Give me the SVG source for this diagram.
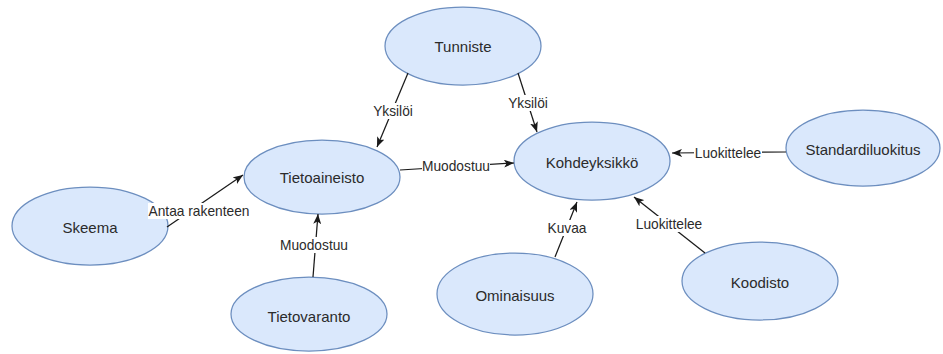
<svg xmlns="http://www.w3.org/2000/svg" width="943" height="354" viewBox="0 0 943 354">
<defs>
<style>
.node ellipse{fill:#dae8fc;stroke:#6c8ebf;stroke-width:1.25}
.node text{font-family:"Liberation Sans",Arial,sans-serif;font-size:15px;fill:#2b2b2b;text-anchor:middle;dominant-baseline:central}
.edge line{stroke:#1a1a1a;stroke-width:1.25;marker-end:url(#arr)}
.lbl rect{fill:#ffffff}
.lbl text{font-family:"Liberation Sans",Arial,sans-serif;font-size:13.75px;fill:#2b2b2b;text-anchor:middle;dominant-baseline:central}
</style>
<marker id="arr" viewBox="0 0 10 8" refX="10" refY="4" markerWidth="10" markerHeight="8" orient="auto" markerUnits="userSpaceOnUse">
<path d="M0,0 L10,4 L0,8 L2.5,4 z" fill="#1a1a1a"/>
</marker>
</defs>
<rect width="943" height="354" fill="#ffffff"/>
<g id="tunniste" class="node"><ellipse cx="463" cy="46" rx="78" ry="39"/><text x="463" y="46">Tunniste</text></g>
<g id="tietoaineisto" class="node"><ellipse cx="322" cy="177" rx="78" ry="37"/><text x="322" y="177">Tietoaineisto</text></g>
<g id="skeema" class="node"><ellipse cx="90" cy="226" rx="78" ry="39"/><text x="90" y="227">Skeema</text></g>
<g id="tietovaranto" class="node"><ellipse cx="309" cy="314" rx="78" ry="37"/><text x="309" y="316">Tietovaranto</text></g>
<g id="kohdeyksikko" class="node"><ellipse cx="592" cy="161" rx="78" ry="39"/><text x="592" y="162">Kohdeyksikkö</text></g>
<g id="ominaisuus" class="node"><ellipse cx="515" cy="294" rx="78" ry="41"/><text x="515" y="295">Ominaisuus</text></g>
<g id="koodisto" class="node"><ellipse cx="760" cy="281" rx="78" ry="39"/><text x="760" y="282">Koodisto</text></g>
<g id="standardiluokitus" class="node"><ellipse cx="863" cy="148" rx="77" ry="38"/><text x="863" y="149">Standardiluokitus</text></g>
<g id="connectors">
<g class="edge"><line x1="408" y1="73" x2="377" y2="147"/></g>
<g class="edge"><line x1="518" y1="73" x2="537" y2="132"/></g>
<g class="edge"><line x1="400" y1="170" x2="514" y2="163"/></g>
<g class="edge"><line x1="167" y1="227" x2="243" y2="175"/></g>
<g class="edge"><line x1="313" y1="277" x2="318" y2="214"/></g>
<g class="edge"><line x1="555" y1="257" x2="577" y2="202"/></g>
<g class="edge"><line x1="705" y1="253" x2="634" y2="197"/></g>
<g class="edge"><line x1="786" y1="152" x2="672" y2="153"/></g>
<g class="lbl"><rect x="373" y="103" width="40" height="16"/><text x="393" y="111">Yksilöi</text></g>
<g class="lbl"><rect x="508" y="95" width="40" height="16"/><text x="528" y="103">Yksilöi</text></g>
<g class="lbl"><rect x="422" y="158" width="68" height="16"/><text x="456" y="166">Muodostuu</text></g>
<g class="lbl"><rect x="148" y="203" width="102" height="16"/><text x="199" y="211">Antaa rakenteen</text></g>
<g class="lbl"><rect x="280" y="237" width="68" height="16"/><text x="314" y="245">Muodostuu</text></g>
<g class="lbl"><rect x="547" y="220" width="40" height="16"/><text x="567" y="228">Kuvaa</text></g>
<g class="lbl"><rect x="635" y="216" width="68" height="16"/><text x="669" y="224">Luokittelee</text></g>
<g class="lbl"><rect x="694" y="145" width="68" height="16"/><text x="728" y="153">Luokittelee</text></g>
</g>
</svg>
